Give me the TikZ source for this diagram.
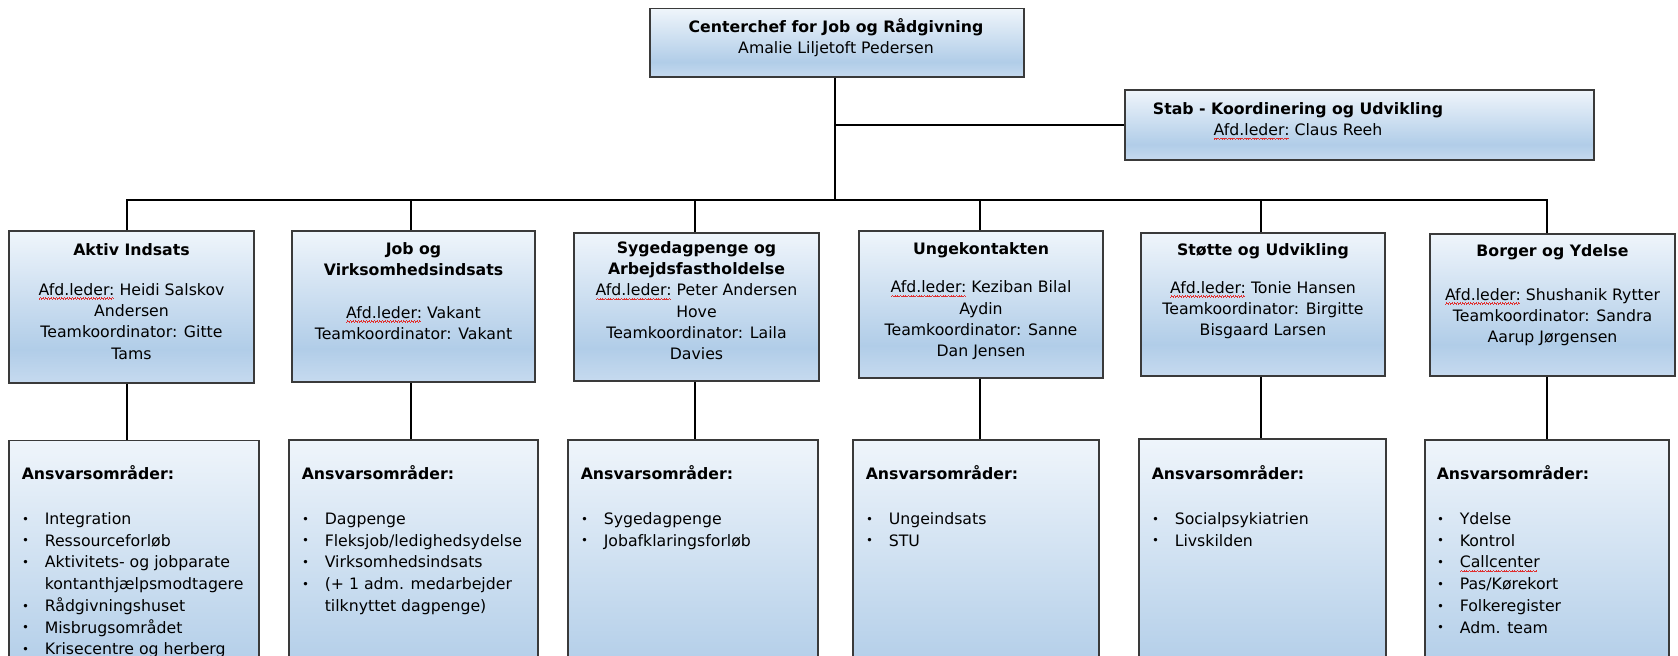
\documentclass[tikz,border=0pt]{standalone}
\usepackage{fontspec}
\setmainfont{DejaVu Sans}
\usepackage{graphicx}
\usetikzlibrary{fit}
\definecolor{shTop}{HTML}{EFF5FB}
\definecolor{shMid}{HTML}{B1CDE8}
\definecolor{shBot}{HTML}{C6DAEF}
\definecolor{edge}{HTML}{3A3A3A}
\definecolor{squig}{HTML}{E03030}
\pgfdeclareverticalshading{boxgrad}{100bp}{color(0bp)=(shBot); color(25bp)=(shBot); color(36bp)=(shMid); color(75bp)=(shTop); color(100bp)=(shTop)}
\newcommand\wavecell{\hbox{\rule[-0.45pt]{0.5pt}{0.5pt}\rule[0pt]{0.5pt}{0.5pt}\rule[0.45pt]{0.5pt}{0.5pt}\rule[0pt]{0.5pt}{0.5pt}}}
\newcommand\spl[1]{\setbox0\hbox{#1}\leavevmode\rlap{\raisebox{-2.6pt}{\textcolor{squig}{\hbox to\wd0{\leaders\wavecell\hfill}}}}\box0\relax}
\newcommand\bitem[1]{\makebox[17.25pt][l]{\hspace{0.2pt}\raisebox{0.08em}{\scalebox{0.75}{•}}}#1}
\newcommand\bcont[1]{\hspace{17.25pt}#1}
\tikzset{
  box/.style={draw=edge, line width=1pt, shade, shading=boxgrad, inner sep=0pt},
  conn/.style={draw=black, line width=1.5pt},
  txt/.style={align=center, inner sep=0pt, anchor=north, font=\fontsize{11.8}{16}\selectfont},
  ltxt/.style={align=left, inner sep=0pt, anchor=north west, font=\fontsize{11.8}{16.3}\selectfont},
}
\begin{document}
\begin{tikzpicture}[x=0.75pt,y=-0.75pt]
\clip (0,0) rectangle (1678,656);
\fill[white] (0,0) rectangle (1678,656);
% boxes
\node[box, fit={(650,8.5) (1024,77)}] (top) {};
\node[box, fit={(1125,90) (1594,160)}] (stab) {};
\node[box, fit={(9,231) (254,383)}] (r1a) {};
\node[box, fit={(292,231) (535,382)}] (r1b) {};
\node[box, fit={(574,233) (819,381)}] (r1c) {};
\node[box, fit={(859,231) (1103,378)}] (r1d) {};
\node[box, fit={(1141,233) (1385,376)}] (r1e) {};
\node[box, fit={(1430,234) (1675,376)}] (r1f) {};
\node[box, fit={(9,440.5) (259,740)}] (r2a) {};
\node[box, fit={(289,440) (538,740)}] (r2b) {};
\node[box, fit={(568,440) (818,740)}] (r2c) {};
\node[box, fit={(853,440) (1099,740)}] (r2d) {};
\node[box, fit={(1139,439) (1386,740)}] (r2e) {};
\node[box, fit={(1425,440) (1669,740)}] (r2f) {};
% bus points
\coordinate (ca) at (127,200.5);
\coordinate (cb) at (411,200.5);
\coordinate (cc) at (695,200.5);
\coordinate (cd) at (980,200.5);
\coordinate (ce) at (1261,200.5);
\coordinate (cf) at (1547,200.5);
% connectors
\draw[conn] (top.south -| 835,0) -- (ca -| 835,0);
\draw[conn] (stab.west -| 835,0) -- (stab.west);
\draw[conn] (ca |- r1a.north) -- (ca) -- (cf) -- (cf |- r1f.north);
\foreach \b in {b,c,d,e}{\draw[conn] (c\b) -- (c\b |- r1\b.north);}
\foreach \b in {a,b,c,d,e,f}{\draw[conn] (c\b |- r1\b.south) -- (c\b |- r2\b.north);}
% texts
\node[txt] (topT) at (836,17) {\strut\textbf{Centerchef for Job og Rådgivning}\\Amalie Liljetoft Pedersen};
\node[txt] (stabT) at (1298,99) {\strut\textbf{Stab - Koordinering og Udvikling}\\\spl{Afd.leder:} Claus Reeh};
\node[txt] (r1aT) at (r1a.north |- 0,240) {\strut\textbf{Aktiv Indsats}\\[14pt]\spl{Afd.leder:} Heidi Salskov\\Andersen\\Teamkoordinator: Gitte\\Tams};
\node[txt] (r1bT) at (r1b.north |- 0,239) {\strut\textbf{Job og}\\\textbf{Virksomhedsindsats}\\[16pt]\spl{Afd.leder:} Vakant\\Teamkoordinator: Vakant};
\node[txt] (r1cT) at (r1c.north |- 0,238) {\strut\textbf{Sygedagpenge og}\\\textbf{Arbejdsfastholdelse}\\\spl{Afd.leder:} Peter Andersen\\Hove\\Teamkoordinator: Laila\\Davies};
\node[txt] (r1dT) at (r1d.north |- 0,239) {\strut\textbf{Ungekontakten}\\[13pt]\spl{Afd.leder:} Keziban Bilal\\Aydin\\Teamkoordinator: Sanne\\Dan Jensen};
\node[txt] (r1eT) at (r1e.north |- 0,240) {\strut\textbf{Støtte og Udvikling}\\[12.5pt]\spl{Afd.leder:} Tonie Hansen\\Teamkoordinator: Birgitte\\Bisgaard Larsen};
\node[txt] (r1fT) at (r1f.north |- 0,241) {\strut\textbf{Borger og Ydelse}\\[17pt]\spl{Afd.leder:} Shushanik Rytter\\Teamkoordinator: Sandra\\Aarup Jørgensen};
\node[ltxt] (r2aT) at (21.5,464) {\strut\textbf{Ansvarsområder:}\\[17.45pt]\bitem{Integration}\\\bitem{Ressourceforløb}\\\bitem{Aktivitets- og jobparate}\\\bcont{kontanthjælpsmodtagere}\\\bitem{Rådgivningshuset}\\\bitem{Misbrugsområdet}\\\bitem{Krisecentre og herberg}};
\node[ltxt] (r2bT) at (301.5,464) {\strut\textbf{Ansvarsområder:}\\[17.45pt]\bitem{Dagpenge}\\\bitem{Fleksjob/ledighedsydelse}\\\bitem{Virksomhedsindsats}\\\bitem{(+ 1 adm. medarbejder}\\\bcont{tilknyttet dagpenge)}};
\node[ltxt] (r2cT) at (580.5,464) {\strut\textbf{Ansvarsområder:}\\[17.45pt]\bitem{Sygedagpenge}\\\bitem{Jobafklaringsforløb}};
\node[ltxt] (r2dT) at (865.5,464) {\strut\textbf{Ansvarsområder:}\\[17.45pt]\bitem{Ungeindsats}\\\bitem{STU}};
\node[ltxt] (r2eT) at (1151.5,464) {\strut\textbf{Ansvarsområder:}\\[17.45pt]\bitem{Socialpsykiatrien}\\\bitem{Livskilden}};
\node[ltxt] (r2fT) at (1436.5,464) {\strut\textbf{Ansvarsområder:}\\[17.45pt]\bitem{Ydelse}\\\bitem{Kontrol}\\\bitem{\spl{Callcenter}}\\\bitem{Pas/Kørekort}\\\bitem{Folkeregister}\\\bitem{Adm. team}};
\end{tikzpicture}
\end{document}
